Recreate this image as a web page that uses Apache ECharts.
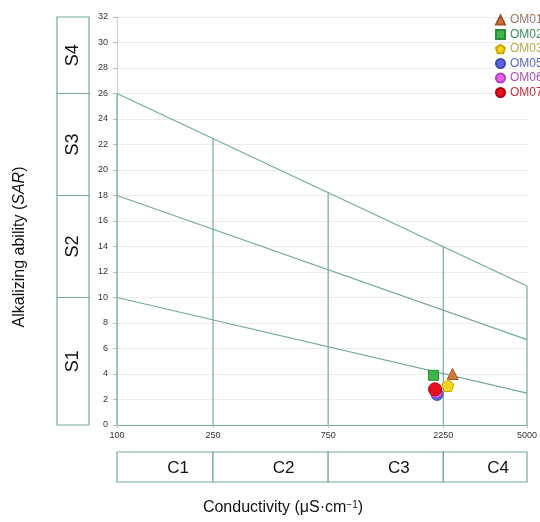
<!DOCTYPE html>
<html>
<head>
<meta charset="utf-8">
<script src="https://cdn.jsdelivr.net/npm/echarts@6/dist/echarts.min.js"></script>
<style>
html,body{margin:0;padding:0;background:#fff}
#chartDom{width:540px;height:522px}
</style>
</head>
<body>
<div id="chartDom"></div>
<script>
// 样品
const sampleNames = ['OM01', 'OM02', 'OM03', 'OM05', 'OM06', 'OM07'];
// 电导率 μS/cm
const conductivity = [2460, 2050, 2350, 2120, 2100, 2080];
// SAR
const sarValues = [4.0, 3.9, 3.1, 2.4, 2.6, 2.8];
// x 轴刻度
const xTicks = [100, 250, 750, 2250, 5000];
// 分区斜线：100 处与 5000 处的 SAR
const boundaryLeft = [10, 18, 26];
const boundaryRight = [2.5, 6.7, 10.9];
// 竖线 250 / 750 / 2250 的顶端
const dividerX = [250, 750, 2250];
const dividerTop = [22.5, 18.3, 14.0];
// 分级框
const sClasses = ['S1', 'S2', 'S3', 'S4'];
const sBreaks = [0, 10, 18, 26, 32];
const cClasses = ['C1', 'C2', 'C3', 'C4'];

const teal = '#72aaa2';
const font = "'Liberation Sans', Arial, sans-serif";
const symbols = ['triangle', 'rect', 'path://M50,0 L97.6,34.5 L79.4,90.5 L20.6,90.5 L2.4,34.5 Z', 'circle', 'circle', 'circle'];
const sizes = [11, 10, 12, 12, 12, 13];
const fills = ['#d0783a', '#3cb54a', '#f4d41c', '#5468e0', '#e860e8', '#e8101c'];
const borders = ['#a0522d', '#2d8a3a', '#c8a800', '#3848b0', '#b040b8', '#b00010'];
const textColors = ['#9c7468', '#3f8a5f', '#b8a850', '#5a68c0', '#a850b8', '#c03040'];

let myChart = echarts.init(document.getElementById('chartDom'));

// 线段
let segs = [];
boundaryLeft.forEach((v, i) => segs.push([[100, v], [5000, boundaryRight[i]]]));
segs.push([[100, 0], [100, boundaryLeft[2]]]);
segs.push([[5000, 0], [5000, boundaryRight[2]]]);
dividerX.forEach((x, i) => segs.push([[x, 0], [x, dividerTop[i]]]));

let series = segs.map(s => ({
  type: 'line', data: s, symbol: 'none', silent: true,
  lineStyle: { color: teal, width: 1.2 }, z: 3
}));

// 左侧 S 框
series.push({
  type: 'line', xAxisIndex: 1, yAxisIndex: 1, data: [], silent: true,
  markArea: {
    silent: true,
    itemStyle: { color: '#fff', borderColor: teal, borderWidth: 1.2 },
    label: { show: true, position: 'inside', rotate: 90, fontSize: 18, color: '#111', fontFamily: font },
    data: sClasses.map((s, i) => [{ name: s, xAxis: 0, yAxis: sBreaks[i] }, { xAxis: 1, yAxis: sBreaks[i + 1] }])
  }
});
// 底部 C 框
series.push({
  type: 'line', xAxisIndex: 2, yAxisIndex: 2, data: [], silent: true,
  markArea: {
    silent: true,
    itemStyle: { color: '#fff', borderColor: teal, borderWidth: 1.2 },
    label: { show: true, position: 'inside', offset: [13, 1], fontSize: 17, color: '#111', fontFamily: font },
    data: cClasses.map((c, i) => [{ name: c, xAxis: xTicks[i], yAxis: 0 }, { xAxis: xTicks[i + 1], yAxis: 1 }])
  }
});

sampleNames.forEach((n, i) => {
  series.push({
    name: n, type: 'scatter', symbol: symbols[i], symbolSize: sizes[i],
    data: [[conductivity[i], sarValues[i]]], z: 10,
    itemStyle: { color: fills[i], borderColor: borders[i], borderWidth: 1, opacity: 1 }
  });
});

myChart.setOption({
  animation: false,
  textStyle: { fontFamily: font },
  legend: {
    orient: 'vertical', left: 490, top: 9,
    itemWidth: 9, itemHeight: 9, itemGap: 2.5,
    textStyle: { fontSize: 12, fontFamily: font },
    data: sampleNames.map((n, i) => ({ name: n, icon: symbols[i], textStyle: { color: textColors[i] } }))
  },
  grid: [
    { left: 117, right: 13, top: 17, bottom: 97 },
    { left: 57, width: 32, top: 17, bottom: 97 },
    { left: 117, right: 13, top: 452, height: 30 }
  ],
  xAxis: [
    {
      type: 'log', logBase: 10, min: 100, max: 5000, gridIndex: 0,
      axisLine: { lineStyle: { color: teal, width: 1.2 } },
      axisTick: { customValues: xTicks, length: 3, lineStyle: { color: '#bbb' } },
      axisLabel: { customValues: xTicks, fontSize: 9, color: '#333', margin: 6, formatter: v => String(Math.round(v)) },
      splitLine: { show: false }
    },
    { type: 'value', min: 0, max: 1, gridIndex: 1, show: false },
    { type: 'log', logBase: 10, min: 100, max: 5000, gridIndex: 2, show: false }
  ],
  yAxis: [
    {
      type: 'value', min: 0, max: 32, interval: 2, gridIndex: 0,
      axisLine: { show: true, lineStyle: { color: '#cfcfcf' } },
      axisTick: { show: true, length: 4, lineStyle: { color: '#bbb' } },
      axisLabel: { fontSize: 9, color: '#333', margin: 9 },
      splitLine: { show: true, lineStyle: { color: '#ececec' } }
    },
    { type: 'value', min: 0, max: 32, gridIndex: 1, show: false },
    { type: 'value', min: 0, max: 1, gridIndex: 2, show: false }
  ],
  graphic: [
    {
      type: 'text', x: 20, y: 247, rotation: Math.PI / 2,
      style: {
        text: 'Alkalizing ability ({i|SAR})', fontSize: 16, fontFamily: font, fill: '#111',
        align: 'center', verticalAlign: 'middle',
        rich: { i: { fontSize: 16, fontStyle: 'italic', fontFamily: font, fill: '#111' } }
      }
    },
    {
      type: 'text', x: 283, y: 508,
      style: {
        text: 'Conductivity (μS·cm{s|−1})', fontSize: 16, fontFamily: font, fill: '#111',
        align: 'center', verticalAlign: 'middle',
        rich: { s: { fontSize: 10, verticalAlign: 'top', padding: [0, 0, 6, 0], fontFamily: font, fill: '#111' } }
      }
    }
  ],
  series: series
});
</script>
</body>
</html>
